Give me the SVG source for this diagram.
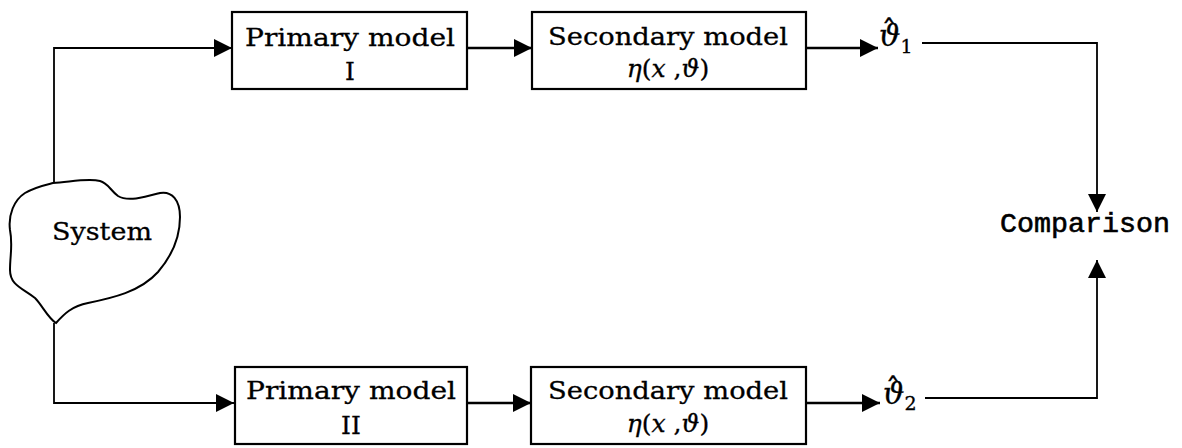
<svg xmlns="http://www.w3.org/2000/svg" width="1182" height="448" viewBox="0 0 1182 448">
<style>
.box{fill:#fff;stroke:#000;stroke-width:2.2}
.lbl{font-family:"DejaVu Serif","Liberation Serif",serif;font-size:25px;fill:#000;stroke:#000;stroke-width:0.3}
.mono{font-family:"Liberation Mono","DejaVu Sans Mono",monospace;font-size:28px;fill:#000;stroke:#000;stroke-width:0.6}
.it{font-style:italic}
.ln{fill:none;stroke:#000;stroke-width:2.4}
.thin{fill:none;stroke:#000;stroke-width:1.8}
.th{font-family:"DejaVu Serif","Liberation Serif",serif;font-style:italic;font-size:30px;fill:#000;stroke:#000;stroke-width:0.3}
.hat{font-family:"DejaVu Sans","Liberation Sans",sans-serif;font-style:normal;font-size:30px}
.sub{font-style:normal;font-size:19px}
</style>
<defs>
<marker id="ah" markerUnits="userSpaceOnUse" markerWidth="19" markerHeight="18" refX="18" refY="9" orient="auto">
<path d="M0,0 L18,9 L0,18 Z" fill="#000"/>
</marker>
</defs>
<rect width="1182" height="448" fill="#fff"/>
<g id="connectors">
<path class="thin" d="M54,183 V48 H232" marker-end="url(#ah)"/>
<path class="ln" d="M467,48 H532" marker-end="url(#ah)"/>
<path class="ln" d="M806,48 H878" marker-end="url(#ah)"/>
<path class="thin" d="M922,43 H1097 V212" marker-end="url(#ah)"/>
<path class="thin" d="M54,323 V403 H234" marker-end="url(#ah)"/>
<path class="ln" d="M467,403 H531" marker-end="url(#ah)"/>
<path class="ln" d="M806,403 H880" marker-end="url(#ah)"/>
<path class="thin" d="M925,398 H1097 V260" marker-end="url(#ah)"/>
</g>
<g id="system">
<path fill="#fff" stroke="#000" stroke-width="2" d="M53,183 C70,182 88,178 100,181 C108,183 110,190 118,196 C128,202 145,197 160,193 C172,191 180,200 180,217 C180,240 170,258 158,272 C140,292 112,298 88,303 C72,306 64,314 56,323 C48,318 42,305 35,298 C22,288 10,285 10,270 C10,255 13,245 10,230 C8,215 14,200 25,193 C35,187 45,185 53,183 Z"/>
<text class="lbl" x="52" y="240" textLength="100" lengthAdjust="spacingAndGlyphs">System</text>
</g>
<g id="primary1">
<rect class="box" x="232" y="12" width="235" height="77"/>
<text class="lbl" x="245" y="46" textLength="210" lengthAdjust="spacingAndGlyphs">Primary model</text>
<text class="lbl" x="350" y="80" text-anchor="middle">I</text>
</g>
<g id="secondary1">
<rect class="box" x="532" y="12" width="274" height="77"/>
<text class="lbl" x="548" y="45" textLength="240" lengthAdjust="spacingAndGlyphs">Secondary model</text>
<text class="lbl" x="668" y="77" text-anchor="middle"><tspan class="it">η</tspan>(<tspan class="it">x</tspan> ,<tspan class="it">ϑ</tspan>)</text>
</g>
<g id="theta1">
<text class="th" x="879" y="46">ϑ<tspan class="hat" dx="-19" dy="-4">ˆ</tspan><tspan class="sub" dx="4" dy="11">1</tspan></text>
</g>
<g id="comparison">
<text class="mono" x="1000" y="232" textLength="170" lengthAdjust="spacingAndGlyphs">Comparison</text>
</g>
<g id="primary2">
<rect class="box" x="235" y="367" width="232" height="77"/>
<text class="lbl" x="246" y="399" textLength="210" lengthAdjust="spacingAndGlyphs">Primary model</text>
<text class="lbl" x="351" y="434" text-anchor="middle">II</text>
</g>
<g id="secondary2">
<rect class="box" x="531" y="367" width="275" height="77"/>
<text class="lbl" x="548" y="399" textLength="240" lengthAdjust="spacingAndGlyphs">Secondary model</text>
<text class="lbl" x="668" y="432" text-anchor="middle"><tspan class="it">η</tspan>(<tspan class="it">x</tspan> ,<tspan class="it">ϑ</tspan>)</text>
</g>
<g id="theta2">
<text class="th" x="883" y="404">ϑ<tspan class="hat" dx="-19" dy="-4">ˆ</tspan><tspan class="sub" dx="4" dy="10">2</tspan></text>
</g>
</svg>
